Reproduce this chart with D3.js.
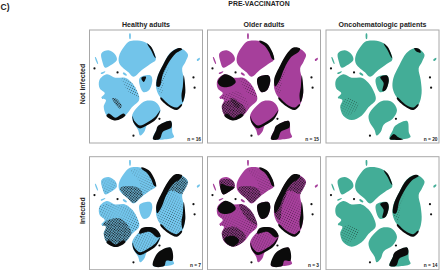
<!DOCTYPE html>
<html>
<head>
<meta charset="utf-8">
<script src="https://cdn.jsdelivr.net/npm/d3@7"></script>
<style>
html, body { margin: 0; padding: 0; background: #fff; }
text { font-family: "Liberation Sans", Arial, sans-serif; font-weight: bold; fill: #222; }
</style>
</head>
<body>
<div id="chart"></div>
<script>
var groups = ["Healthy adults", "Older adults", "Oncohematologic patients"];
var statuses = ["Not infected", "Infected"];
var counts = [[16, 15, 20], [7, 3, 14]];
var groupColors = ["#72c4ea", "#a63f9b", "#43ad97"];

// Cell islands in its own 0-100 coordinates
var islandA = [[35.4,10],[44.8,9.6],[52.2,12.6],[57.2,20],[58.6,26.5],[53.7,30],[46.3,35.4],[38.9,41.4],[34.5,37.4],[26.6,30],[26,23.6],[30.7,14.7]];
var islandB = [[10.6,20.6],[16.8,18],[22.7,21.6],[24.2,26.5],[18.3,31.4],[13.9,33.4],[11.4,28]];
var islandC = [[77.3,16.4],[82.6,17],[87.2,22],[85,28],[82,33.9],[83.8,44.2],[84.6,56],[82.2,65.4],[77.3,70.2],[70,67],[62.6,59.6],[59,51.6],[59.6,42.8],[65,31],[71,20.6]];
var islandD = [[8.8,44.2],[15.3,39.2],[22.7,42.2],[31.5,42.2],[37.5,46.6],[43,56],[43.9,61.9],[37.5,68.4],[31.5,75.8],[22.7,79.6],[15.3,75.8],[12.6,68],[14.5,62],[10.5,60],[13.5,56],[9,51.6]];
var islandE = [[44.4,42.4],[54,40.2],[55.6,44.2],[52.6,53.4],[47.8,55],[44.4,48.7]];
var islandF = [[49.6,62.8],[58.4,63.7],[62.8,70.8],[58.8,78.8],[51,83.8],[48.5,90],[44.8,93.4],[43,88.5],[38.6,81.4],[37.8,75.2],[43.4,67.2]];
var islandG = [[61,85],[71.8,80.5],[73.4,91],[74.8,94.8],[65.5,97],[56.2,96.4],[59.2,88.5]];
var slivers = [[[35.3,3],[36.3,3],[36.2,8],[35.5,8]], [[4.8,24],[5.4,24],[7.6,30],[7,30]], [[30,37.5],[33,39.5],[32.5,40.5],[29.5,38.5]], [[95,26],[97.5,24.5],[97.5,26],[95.5,27.5]], [[10,38],[14,36.5],[13.5,37.5],[10.5,39]]];
var islands = [islandA, islandB, islandC, islandD, islandE, islandF, islandG].concat(slivers);

// Solid black parts of the islands
var aEdge = [[46,9.4],[52.5,12],[57.6,20],[59,26.5],[57,25.5],[54.6,20],[50.5,14],[46,10.6]];
var aEdgeSmall = [[51,12],[55,15.5],[58.6,25],[57.5,24],[54.5,18]];
var cBandThin = [[79,16],[82,17],[76,21],[70,29],[65,39],[62,50],[59.5,50],[60,42],[65,31],[71,21]];
var cBandWide = [[76,15.5],[82,16.5],[80,20],[74,24],[68,34],[64,44],[60,50],[59,44],[64.5,31],[71,20]];
var cTip = [[78,16.2],[82.5,16.8],[84,20],[80,19]];
var cRight = [[83.4,40],[84.8,55],[82.4,64],[81.4,58],[82.6,50]];
var cBottom = [[63,59.6],[70,65.6],[77,68.6],[81.6,65.4],[82,66.4],[77.3,70.8],[70,67.8],[62.6,60.6]];
var dInner = [[20,60.5],[24,61],[28.5,67],[27,69.5],[22.5,65]];
var dTop = [[9,46],[15,39.2],[22,41.5],[25,46],[20,50],[12,50]];
var dRidge = [[30,42],[37.5,46.2],[43,55],[41.4,55],[35.5,48.5]];
var dBottom = [[17,74],[23,77.6],[30,74],[31.8,75.6],[23,80],[15,76]];
var dLowerHalf = [[12.5,66],[24,62],[34,71],[24,80.5],[15,76]];
var dLowerCore = [[15,72],[23,70],[28,74],[23,79.5],[16,76]];
var fEdge = [[38,76],[40,80.8],[44.5,84.5],[51,81.8],[58,77],[62.6,71],[59,78.8],[51,84.4],[44,87],[39,81.8]];
var fCap = [[46,63.4],[58,63.4],[63,70.5],[60,71.5],[53,66.5],[44,68]];
var gDark = [[60.5,85],[71.8,80.4],[72.6,86],[65,90],[62,96.5],[56.2,96.6],[59.2,88.5]];
var gThin = [[56.4,96.4],[60,92],[64,95],[68,97],[60,97.2]];
var gMost = [[60.5,85],[71.8,80.4],[73.4,92],[68,92],[66,96.8],[56.2,96.6]];
var eCorner = [[46,42],[50,41.3],[48,46],[46.5,44.5]];
var eHalf = [[48,41.6],[54,40.2],[55.6,44.2],[52.6,53.4],[50,54],[51,47]];
var bLower = [[12,24],[18,26],[24,27],[18.3,31.4],[13.9,33.4],[11.4,28]];

var darkFree = [
    [aEdgeSmall, cBandThin, cRight, cBottom, dBottom, fEdge, gDark, eCorner],
    [aEdge, cBandWide, cBottom, cRight, dTop, dBottom, fEdge, gDark, islandE],
    [aEdgeSmall, cTip, gThin, eHalf, cBottom],
];
var darkInfected = [
    [aEdge, cBandWide, cRight, cBottom, dBottom, fEdge, fCap, gMost],
    [aEdge, cBandWide, cRight, cBottom, dTop, dLowerCore, fEdge, fCap, gMost, islandE, bLower],
    [aEdgeSmall, cBandThin, cBottom, eHalf, gDark],
];

// Stippled parts, where cells of the group are sparse
var upperA = [[36,12],[50,12],[58,24],[46,34],[44,22]];
var lowerA = [[27,28],[39,41],[47,35],[44,28],[34,26]];
var lowerD = [[12,60],[13,76],[24,81],[37,68],[28,55],[20,55]];
var wholeD = [[9,44],[22,42],[38,47],[44,60],[35,70],[24,80],[13,74],[12,58]];
var wholeF = [[38,75],[48,63],[60,64],[63,72],[52,84],[44,87]];
var wholeC = [[60,44],[72,30],[80,36],[84,56],[78,69],[62,58]];
var cTop = [[71,20],[78,16],[87,22],[83,33],[72,30],[66,36]];
var rightD = [[28,42],[38,46],[44,60],[36,56]];
var cMid = [[60,42],[70,32],[66,44],[64,56],[60,52]];
var wholeB = [[11,21],[23,21],[24,26],[14,33]];
var lowerDSmall = [[12,66],[20,60],[29,66],[26,72],[18,76]];

var lightFree = [[rightD, cMid], [rightD, lowerD, cMid], [lowerDSmall]];
var lightInfected = [
    [upperA, wholeD, wholeF, wholeC, wholeB],
    [upperA, wholeC, wholeD, wholeF],
    [lowerDSmall, cMid],
];
var heavyFree = [[dInner], [dLowerHalf, dInner], [[]]];
var heavyInfected = [
    [lowerD, cTop, lowerA],
    [lowerA, cTop, cMid, wholeB, rightD, dLowerHalf],
    [[]],
];

// Isolated black clusters
var darkSpecks = [[4.4,34],[93,51],[92,42],[38.9,93.5],[61.9,78.6],[24.8,37.5]];

var svgWidth = 440;
var svgHeight = 270;
var panelSize = 113;
var panelLefts = [89.5, 207.5, 326];
var panelTops = [30, 156.7];

var svg = d3.select("#chart").append("svg").attr("width", svgWidth).attr("height", svgHeight).style("display", "block");

var xScale = d3.scaleLinear().domain([0, 100]).range([0, panelSize]);
var yScale = d3.scaleLinear().domain([0, 100]).range([0, panelSize]);
var blob = d3.line().x(d => xScale(d[0])).y(d => yScale(d[1])).curve(d3.curveCatmullRomClosed.alpha(0.5));

// Dot textures for the sparse regions
var defs = svg.append("defs");
function addPattern(id, size, dot, angle) {
    var p = defs.append("pattern").attr("id", id)
        .attr("patternUnits", "userSpaceOnUse").attr("width", size).attr("height", size)
        .attr("patternTransform", `rotate(${angle})`);
    p.append("rect").attr("width", dot).attr("height", dot).attr("fill", "#111");
}
addPattern("light", 2.3, 0.55, 27);
addPattern("heavy", 1.45, 0.95, 61);

defs.append("clipPath").attr("id", "land").selectAll("path").data(islands).join("path").attr("d", blob);

svg.append("text").attr("x", 0.5).attr("y", 10).attr("font-size", 8.5).text("C)");
svg.append("text").attr("x", 259).attr("y", 5.5).attr("font-size", 6.9).attr("text-anchor", "middle").text("PRE-VACCINATON");

statuses.forEach(function(status, row) {
    var top = panelTops[row];
    svg.append("text")
        .attr("transform", `translate(84.5, ${top + 54}) rotate(-90)`)
        .attr("font-size", 7).attr("text-anchor", "middle").text(status);

    groups.forEach(function(group, col) {
        var panel = svg.append("g").attr("transform", `translate(${panelLefts[col]}, ${top})`);
        panel.append("rect").attr("width", panelSize).attr("height", panelSize)
            .attr("fill", "#fff").attr("stroke", "#a8a8a8").attr("stroke-width", 1);

        panel.selectAll(".island").data(islands).join("path").attr("class", "island")
            .attr("d", blob).attr("fill", groupColors[col]);

        var clipped = panel.append("g").attr("clip-path", "url(#land)");
        var light = row == 0 ? lightFree[col] : lightInfected[col];
        clipped.selectAll(".light").data(light).join("path").attr("class", "light")
            .attr("d", d => d.length ? blob(d) : null).attr("fill", "url(#light)");
        var heavy = row == 0 ? heavyFree[col] : heavyInfected[col];
        clipped.selectAll(".heavy").data(heavy).join("path").attr("class", "heavy")
            .attr("d", d => d.length ? blob(d) : null).attr("fill", "url(#heavy)");

        var dark = row == 0 ? darkFree[col] : darkInfected[col];
        panel.selectAll(".dark").data(dark).join("path").attr("class", "dark")
            .attr("d", blob).attr("fill", "#0b0b0b");

        panel.selectAll(".speck").data(darkSpecks).join("circle").attr("class", "speck")
            .attr("cx", d => xScale(d[0])).attr("cy", d => yScale(d[1]))
            .attr("r", 1.1).attr("fill", "#111");

        if (row == 0) {
            panel.append("text").attr("x", panelSize / 2).attr("y", -3.3)
                .attr("font-size", 7).attr("text-anchor", "middle").text(group);
        }
        panel.append("text").attr("x", panelSize - 1.5).attr("y", panelSize - 2.5)
            .attr("font-size", 4.8).attr("text-anchor", "end").text("n = " + counts[row][col]);
    });
});
</script>
</body>
</html>
